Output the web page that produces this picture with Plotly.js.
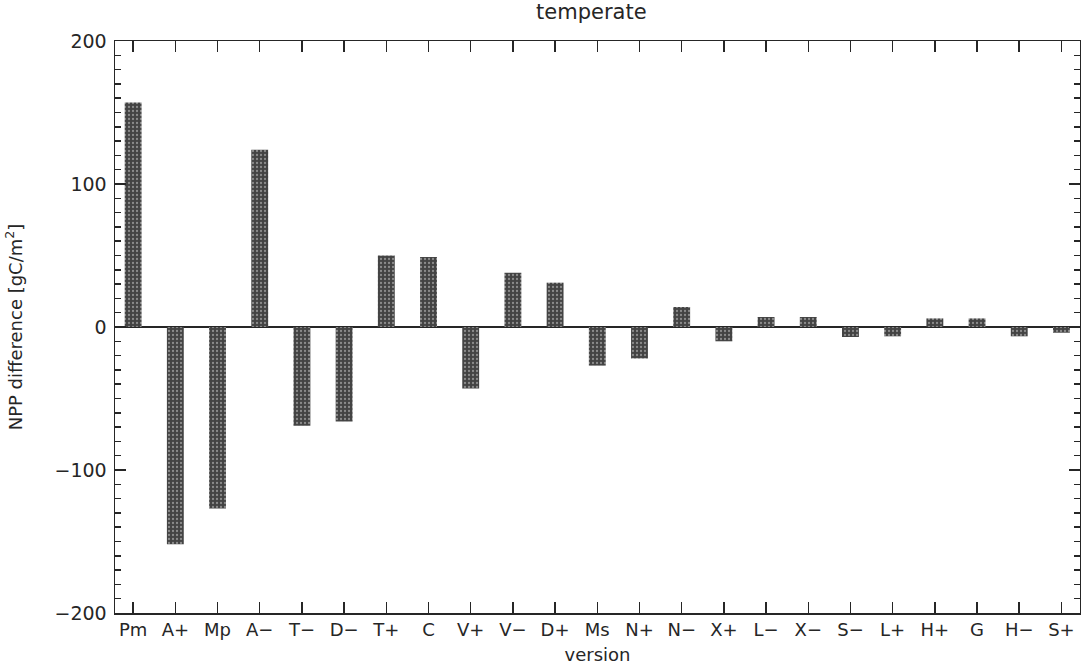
<!DOCTYPE html>
<html>
<head>
<meta charset="utf-8">
<script src="https://cdn.plot.ly/plotly-3.0.1.min.js"></script>
<style>
  html, body { margin: 0; padding: 0; background: #fff; }
  #chart { width: 1081px; height: 670px; }
</style>
</head>
<body>
<div id="chart"></div>
<script>
// Model versions along the x axis
const versions = ["Pm","A+","Mp","A\u2212","T\u2212","D\u2212","T+","C","V+","V\u2212","D+","Ms",
                  "N+","N\u2212","X+","L\u2212","X\u2212","S\u2212","L+","H+","G","H\u2212","S+"];

// NPP difference for the temperate zone [gC/m2]
const nppDiff = [157, -152, -127, 124, -69, -66, 50, 49, -43, 38, 31, -27,
                 -22, 14, -10, 7, 7, -7, -6.5, 6, 6, -6.5, -4];

const yTickVals = [-200, -100, 0, 100, 200];
const yTickText = ["\u2212200", "\u2212100", "0", "100", "200"];

const ink = "#262626";
const fontFamily = "'DejaVu Sans', 'Liberation Sans', sans-serif";

const trace = {
  type: "bar",
  x: versions.map((_, i) => i),
  y: nppDiff,
  width: 0.4,
  marker: {
    color: "#434343",
    line: { width: 0 },
    pattern: { shape: ".", fgcolor: "#8c8c8c", bgcolor: "#434343", size: 4, solidity: 0.25 }
  },
  hoverinfo: "x+y"
};

const layout = {
  width: 1081,
  height: 670,
  margin: { l: 115, r: 1, t: 41, b: 57 },
  paper_bgcolor: "#ffffff",
  plot_bgcolor: "#ffffff",
  showlegend: false,
  font: { family: fontFamily, color: ink, size: 19 },
  title: {
    text: "temperate",
    x: 0.547, xanchor: "center",
    y: 0.982, yanchor: "middle",
    font: { size: 21, color: ink, family: fontFamily }
  },
  xaxis: {
    range: [-0.43, 22.44],
    tickmode: "array",
    tickvals: versions.map((_, i) => i),
    ticktext: versions,
    ticks: "inside",
    ticklen: 11,
    tickwidth: 1.5,
    tickcolor: ink,
    showline: true,
    linecolor: ink,
    linewidth: 1.5,
    mirror: "ticks",
    showgrid: false,
    zeroline: false,
    automargin: false,
    tickfont: { size: 18, color: ink },
    title: { text: "version", standoff: 9, font: { size: 18, color: ink } }
  },
  yaxis: {
    range: [-200, 200],
    tickmode: "array",
    tickvals: yTickVals,
    ticktext: yTickText,
    ticks: "inside",
    ticklen: 11,
    tickwidth: 1.5,
    tickcolor: ink,
    minor: { dtick: 10, ticks: "inside", ticklen: 6, tickwidth: 1.5, tickcolor: ink, showgrid: false },
    showline: true,
    linecolor: ink,
    linewidth: 1.5,
    mirror: "ticks",
    showgrid: false,
    zeroline: true,
    zerolinecolor: ink,
    zerolinewidth: 1.5,
    automargin: false,
    ticklabelstandoff: 3,
    tickfont: { size: 19, color: ink },
    title: { text: "NPP difference [gC/m<sup>2</sup>]", standoff: 27, font: { size: 18, color: ink } }
  },
  bargap: 0.6
};

Plotly.newPlot("chart", [trace], layout, { displayModeBar: false, staticPlot: true });
</script>
</body>
</html>
